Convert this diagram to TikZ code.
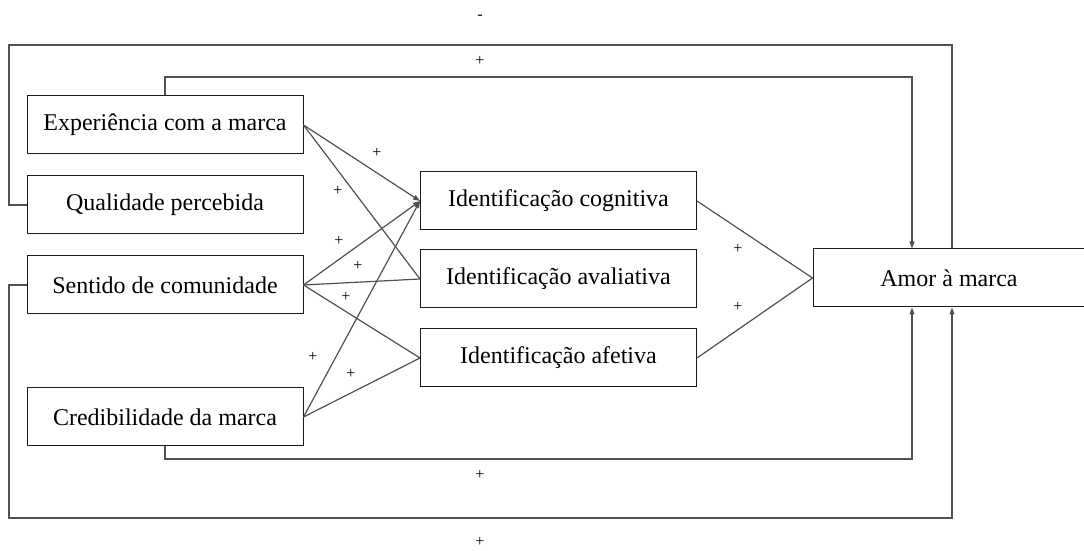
\documentclass[tikz,border=0pt]{standalone}
\usepackage{fontspec}
\setmainfont{Liberation Serif}
\usepackage{xcolor}
\usepackage{tikz}
\usetikzlibrary{arrows.meta,positioning}
\definecolor{amorLine}{HTML}{505050}
\definecolor{amorBox}{HTML}{1A1A1A}
\tikzset{
  box/.style={
    rectangle,
    draw=amorBox,
    line width=0.5pt,
    fill=white,
    align=center,
    font=\fontsize{12}{14}\selectfont,
    minimum height=29pt,
    minimum width=138pt,
    inner sep=0pt
  },
  sign/.style={
    inner sep=0pt,
    font=\fontsize{8}{9}\selectfont
  },
  link/.style={line width=0.6pt, draw=amorLine},
  arrow/.style={-{Triangle[length=3.5pt,width=2.5pt]}, line width=0.6pt, draw=amorLine}
}
\begin{document}
\begin{tikzpicture}[x=0.5pt, y=-0.5pt, node distance=10.5pt]
  \useasboundingbox (0,0) rectangle (1084,551);

  \node[box] (exp) at (165,125) {Experiência com a marca};
  \node[box, below=of exp] (qual) {Qualidade percebida};
  \node[box, below=of qual] (sent) {Sentido de comunidade};
  \node[box, below=36.5pt of sent] (cred) {Credibilidade da marca};

  \node[box] (cog) at (558.5,201) {Identificação cognitiva};
  \node[box, below=9.5pt of cog] (aval) {Identificação avaliativa};
  \node[box, below=10pt of aval] (afet) {Identificação afetiva};

  \node[box, minimum width=136pt] (amor) at (949,278) {Amor à marca};

  \coordinate (ltop) at (9,45);
  \coordinate (rtop) at (952,45);
  \coordinate (itop) at (912,77);
  \coordinate (ibot) at (912,459);
  \coordinate (lbot) at (9,518);
  \coordinate (rbot) at (952,518);

  % loops round the model
  \draw[link] (qual.west) -| (ltop) -| (amor.north -| rtop);
  \draw[arrow] (exp.north) |- (itop) -- (amor.north -| itop);
  \draw[arrow] (cred.south) |- (ibot) -- (amor.south -| ibot);
  \draw[arrow] (sent.west) -| (lbot) -| (amor.south -| rbot);

  % antecedents to identification
  \draw[arrow] (exp.east) -- (cog.west);
  \draw[link] (exp.east) -- (aval.west);
  \draw[arrow] (sent.east) -- (cog.west);
  \draw[link] (sent.east) -- (aval.west);
  \draw[link] (sent.east) -- (afet.west);
  \draw[arrow] (cred.east) -- (cog.west);
  \draw[link] (cred.east) -- (afet.west);

  % identification to brand love
  \draw[link] (cog.east) -- (amor.west);
  \draw[link] (afet.east) -- (amor.west);

  \node[sign] (s1) at (480,17) {-};
  \node[sign] (s2) at (480,61) {+};
  \node[sign] (s3) at (480,475) {+};
  \node[sign] (s4) at (480,542) {+};
  \node[sign] (s5) at (377,153) {+};
  \node[sign] (s6) at (338,191) {+};
  \node[sign] (s7) at (339,241) {+};
  \node[sign] (s8) at (358,266) {+};
  \node[sign] (s9) at (346,297) {+};
  \node[sign] (s10) at (313,357) {+};
  \node[sign] (s11) at (351,374) {+};
  \node[sign] (s12) at (738,249) {+};
  \node[sign] (s13) at (738,307) {+};
\end{tikzpicture}
\end{document}
